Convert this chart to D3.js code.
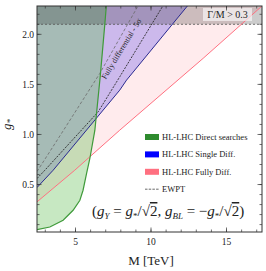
<!DOCTYPE html>
<html>
<head>
<meta charset="utf-8">
<style>
  body { margin: 0; background: #fff; }
  text { font-family: "Liberation Serif", "DejaVu Serif", serif; fill: #222; }
</style>
</head>
<body>
<svg width="266" height="271"></svg>
<script src="https://cdn.jsdelivr.net/npm/d3@7"></script>
<script>

// contours: [M in TeV, g*]
var directSearch = [[2.45, 0.05], [3.3, 0.076], [4.18, 0.143], [4.84, 0.243], [5.29, 0.343],
                    [5.5, 0.443], [5.73, 0.61], [5.95, 0.76], [6.28, 1.04], [6.65, 1.6],
                    [6.94, 2.1], [7.05, 2.3]];
var singleDiff = [[2.45, 0.47], [3.52, 0.643], [7.93, 1.443], [8.38, 1.543], [12.5, 2.3]];
var fullyDiff = [[2.45, 0.327], [4.95, 0.643], [7.93, 1.043], [13.45, 1.76], [17.4, 2.29]];
var ewptLight = [[2.45, 0.63], [4.07, 1.01], [6.61, 1.61], [9.2, 2.3]];
var ewptDark = [[2.45, 0.56], [2.97, 0.643], [6.5, 1.226], [7.93, 1.576], [10.85, 2.3]];
var widthLimit = 2.1;

var xTicks = [5, 10, 15],
    yTicks = [0.5, 1.0, 1.5, 2.0];

var legendItems = ["HL-LHC Direct searches", "HL-LHC Single Diff.", "HL-LHC Fully Diff.", "EWPT"];

var svg = d3.select("svg"),
    margin = {top: 6, right: 4, bottom: 39, left: 37},
    width = 266 - margin.left - margin.right,
    height = 271 - margin.top - margin.bottom;

var x = d3.scaleLinear().domain([2.45, 17.35]).range([0, width]),
    y = d3.scaleLinear().domain([0.026, 2.283]).range([height, 0]);

var g = svg.append("g")
    .attr("transform", "translate(" + margin.left + "," + margin.top + ")");

g.append("clipPath").attr("id", "frame")
  .append("rect").attr("width", width).attr("height", height);

var plot = g.append("g").attr("clip-path", "url(#frame)");

var line = d3.line()
    .x(function(d) { return x(d[0]); })
    .y(function(d) { return y(d[1]); });

// region above a contour (the probed side)
var above = d3.area()
    .x(function(d) { return x(d[0]); })
    .y0(function(d) { return y(d[1]); })
    .y1(function() { return y(3); });

function region(pts) {
  var first = pts[0], last = pts[pts.length - 1];
  return above([[first[0] - 2, first[1]]].concat(pts, [[last[0], 3]]));
}

plot.append("path").attr("d", region(fullyDiff)).style("fill", "rgba(255,110,128,0.14)");
plot.append("path").attr("d", region(singleDiff)).style("fill", "rgba(85,70,235,0.30)");
plot.append("path").attr("d", region(directSearch)).style("fill", "rgba(100,190,85,0.36)");

// width band
plot.append("rect")
    .attr("x", 0).attr("width", width)
    .attr("y", 0).attr("height", y(widthLimit))
    .style("fill", "rgba(0,0,0,0.2)");
plot.append("line")
    .attr("x1", 0).attr("x2", width)
    .attr("y1", y(widthLimit)).attr("y2", y(widthLimit))
    .style("stroke", "#555").style("stroke-width", 0.8).style("stroke-dasharray", "2,2");

plot.append("path").attr("d", line(ewptLight))
    .style("fill", "none").style("stroke", "#6a6a6a").style("stroke-width", 0.8).style("stroke-dasharray", "3,2");
plot.append("path").attr("d", line(ewptDark))
    .style("fill", "none").style("stroke", "#2a2a2a").style("stroke-width", 0.9).style("stroke-dasharray", "2,1.2");

plot.append("path").attr("d", line(fullyDiff))
    .style("fill", "none").style("stroke", "#ff7080").style("stroke-width", 1);
plot.append("path").attr("d", line(singleDiff))
    .style("fill", "none").style("stroke", "#2a2a90").style("stroke-width", 1);
plot.append("path").attr("d", line(directSearch))
    .style("fill", "none").style("stroke", "#3f9a3a").style("stroke-width", 1.2);

// label along the dark EWPT line
var p0 = ewptDark[3], p1 = ewptDark[4];
var ang = Math.atan2(y(p1[1]) - y(p0[1]), x(p1[0]) - x(p0[0])) * 180 / Math.PI;
plot.append("text")
    .attr("transform", "translate(" + (x(p0[0]) - 14) + "," + (y(p0[1]) + 3) + ") rotate(" + ang + ")")
    .style("font-size", "8px")
    .text("Fully differential - 5\u03c3");

// width label
var wl = g.append("g").attr("transform", "translate(" + (width - 59) + ",2)");
wl.append("rect").attr("width", 49).attr("height", 13).style("fill", "rgba(255,255,255,0.6)");
wl.append("text").attr("x", 24.5).attr("y", 10).style("text-anchor", "middle").style("font-size", "10px")
    .text("\u0393/M > 0.3");

// frame and ticks (inside, all four sides)
g.append("rect").attr("width", width).attr("height", height)
    .style("fill", "none").style("stroke", "#333").style("stroke-width", 1);

var xMinor = d3.range(3, 18, 1), yMinor = d3.range(0.1, 2.3, 0.1);
function ticks(sel, vals, scale, horiz, len, side) {
  sel.selectAll(null).data(vals).enter().append("line")
    .attr("x1", function(d) { return horiz ? scale(d) : (side ? width : 0); })
    .attr("x2", function(d) { return horiz ? scale(d) : (side ? width - len : len); })
    .attr("y1", function(d) { return horiz ? (side ? 0 : height) : scale(d); })
    .attr("y2", function(d) { return horiz ? (side ? len : height - len) : scale(d); })
    .style("stroke", "#333").style("stroke-width", 0.7);
}
[0, 1].forEach(function(s) {
  ticks(g, xMinor, x, true, 2.5, s);
  ticks(g, xTicks, x, true, 4.5, s);
  ticks(g, yMinor, y, false, 2.5, s);
  ticks(g, yTicks, y, false, 4.5, s);
});

g.selectAll(".xl").data(xTicks).enter().append("text")
    .attr("x", function(d) { return x(d); }).attr("y", height + 13)
    .style("text-anchor", "middle").style("font-size", "9.5px")
    .text(function(d) { return d; });
g.selectAll(".yl").data(yTicks).enter().append("text")
    .attr("x", -3).attr("y", function(d) { return y(d) + 3.5; })
    .style("text-anchor", "end").style("font-size", "9.5px")
    .text(function(d) { return d.toFixed(1); });

g.append("text").attr("x", x(10)).attr("y", height + 33)
    .style("text-anchor", "middle").style("font-size", "13px")
    .text("M [TeV]");
g.append("text").attr("transform", "translate(-26," + y(1.1) + ") rotate(-90)")
    .style("text-anchor", "middle").style("font-size", "13px").style("font-style", "italic")
    .html("g<tspan dy='2' style='font-size:9px'>*</tspan>");

// legend
var colors = ["#2e8b2e", "#0000ff", "#ff7080"];
var lg = g.append("g").attr("transform", "translate(108,131)");
legendItems.forEach(function(name, i) {
  var row = lg.append("g").attr("transform", "translate(0," + (i * 17.4) + ")");
  if (i < 3) row.append("rect").attr("y", -3).attr("width", 14).attr("height", 6).style("fill", colors[i]);
  else row.append("line").attr("x2", 14).style("stroke", "#444").style("stroke-width", 0.8).style("stroke-dasharray", "2.5,1.2");
  row.append("text").attr("x", 17).attr("y", 3).style("font-size", "8.5px").text(name);
});

// coupling relation
g.append("text").attr("x", 55).attr("y", 210)
    .style("font-size", "15px")
    .html("(<tspan font-style='italic'>g</tspan><tspan dy='3' font-size='9px' font-style='italic'>Y</tspan>" +
          "<tspan dy='-3'> = </tspan><tspan font-style='italic'>g</tspan><tspan dy='3' font-size='9px'>*</tspan>" +
          "<tspan dy='-3'>/\u221a</tspan><tspan text-decoration='overline'>2</tspan>, " +
          "<tspan font-style='italic'>g</tspan><tspan dy='3' font-size='9px' font-style='italic'>BL</tspan>" +
          "<tspan dy='-3'> = \u2212</tspan><tspan font-style='italic'>g</tspan><tspan dy='3' font-size='9px'>*</tspan>" +
          "<tspan dy='-3'>/\u221a</tspan><tspan text-decoration='overline'>2</tspan>)");

</script>
</body>
</html>
